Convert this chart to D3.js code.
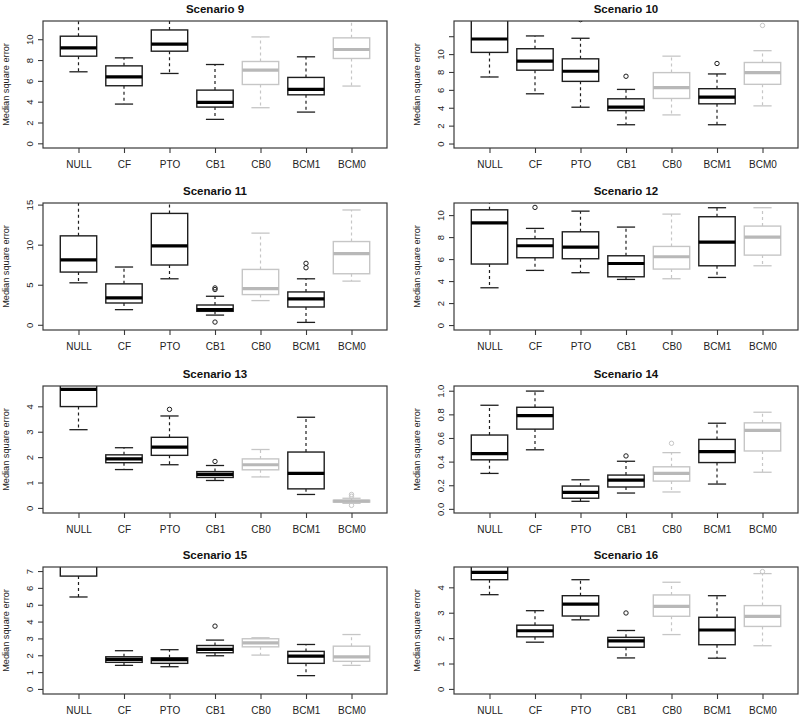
<!DOCTYPE html>
<html>
<head>
<meta charset="utf-8">
<script src="https://cdn.jsdelivr.net/npm/d3@7"></script>
<style>
  html, body { margin: 0; padding: 0; background: #fff; }
  svg { display: block; font-family: "Liberation Sans", Arial, Helvetica, sans-serif; }
</style>
</head>
<body>
<svg id="chart" width="800" height="716"></svg>
<script>
// ---------------- data ----------------
const categories = ["NULL", "CF", "PTO", "CB1", "CB0", "BCM1", "BCM0"];
const grayCategories = ["CB0", "BCM0"];
const titles = ["Scenario 9", "Scenario 10", "Scenario 11", "Scenario 12",
                "Scenario 13", "Scenario 14", "Scenario 15", "Scenario 16"];
const yLabel = "Median square error";

// each box: [lower whisker, Q1, median, Q3, upper whisker]
const s9 = [[6.87, 8.37, 9.17, 10.29, 12.5], [3.77, 5.53, 6.39, 7.44, 8.21], [6.71, 8.85, 9.52, 10.89, 12.2],
            [2.30, 3.48, 3.93, 5.11, 7.57], [3.42, 5.65, 7.03, 7.86, 10.22], [3.0, 4.66, 5.18, 6.33, 8.31],
            [5.5, 8.15, 9.01, 10.13, 11.9]];
const o9 = [[], [], [], [], [], [], []];
const s10 = [[7.44, 10.19, 11.69, 14.5, 15.5], [5.56, 8.2, 9.21, 10.6, 12.03], [4.06, 6.95, 8.08, 9.47, 11.77],
             [2.1, 3.68, 4.06, 5.0, 6.05], [3.2, 5.04, 6.24, 7.93, 9.77], [2.1, 4.44, 5.19, 6.13, 7.78],
             [4.21, 6.62, 7.93, 9.06, 10.38]];
const o10 = [[], [], [13.85], [7.52], [], [8.95], [13.2]];
const s11 = [[5.24, 6.58, 8.09, 11.1, 16.5], [1.89, 2.72, 3.35, 5.11, 7.21], [5.74, 7.46, 9.85, 13.9, 16.5],
             [1.21, 1.68, 1.89, 2.47, 3.56], [3.02, 3.77, 4.52, 6.91, 11.44], [0.3, 2.22, 3.23, 4.1, 5.74],
             [5.45, 6.37, 8.88, 10.39, 14.33]];
const o11 = [[], [], [], [4.4, 4.6, 0.34], [], [7.12, 7.67], []];
const s12 = [[3.39, 5.55, 9.3, 10.48, 11.5], [4.97, 6.12, 7.21, 7.85, 8.79], [4.76, 6.03, 7.09, 8.48, 10.36],
             [4.15, 4.39, 5.6, 6.3, 8.91], [4.21, 5.09, 6.21, 7.15, 10.09], [4.33, 5.39, 7.55, 9.85, 10.67],
             [5.39, 6.36, 8.0, 9.0, 10.67]];
const o12 = [[], [10.7], [], [], [], [], []];
const s13 = [[3.08, 3.99, 4.67, 5.0, 5.6], [1.51, 1.78, 1.93, 2.09, 2.37], [1.7, 2.07, 2.39, 2.78, 3.62],
             [1.08, 1.2, 1.32, 1.43, 1.67], [1.22, 1.5, 1.7, 1.93, 2.3], [0.53, 0.75, 1.36, 2.2, 3.57],
             [0.18, 0.23, 0.27, 0.3, 0.38]];
const o13 = [[], [], [3.88], [1.83], [], [], [0.46, 0.53, 0.1]];
const s14 = [[0.3, 0.415, 0.468, 0.625, 0.877], [0.5, 0.675, 0.79, 0.86, 0.997], [0.064, 0.09, 0.14, 0.193, 0.246],
             [0.134, 0.185, 0.244, 0.286, 0.403], [0.143, 0.235, 0.3, 0.356, 0.476], [0.21, 0.392, 0.485, 0.588, 0.725],
             [0.31, 0.49, 0.664, 0.728, 0.818]];
const o14 = [[], [], [], [0.448], [0.555], [], []];
const s15 = [[5.46, 6.7, 7.5, 8.2, 9.0], [1.40, 1.58, 1.76, 1.91, 2.27], [1.32, 1.52, 1.74, 1.85, 2.33],
             [1.97, 2.15, 2.35, 2.58, 2.9], [2.01, 2.5, 2.74, 2.98, 3.04], [0.79, 1.52, 1.95, 2.23, 2.64],
             [1.4, 1.64, 1.91, 2.54, 3.23]];
const o15 = [[], [], [], [3.73], [], [], []];
const s16 = [[3.71, 4.3, 4.59, 4.85, 5.3], [1.84, 2.05, 2.29, 2.51, 3.08], [2.72, 2.87, 3.34, 3.67, 4.3],
             [1.22, 1.64, 1.89, 2.03, 2.3], [2.14, 2.86, 3.25, 3.7, 4.2], [1.21, 1.74, 2.32, 2.82, 3.67],
             [1.7, 2.46, 2.86, 3.28, 4.54]];
const o16 = [[], [], [], [2.99], [], [], [4.62]];

// y axis ticks and labels per panel
const ticks9 = [0, 2, 4, 6, 8, 10];           const tickLabels9 = ["0", "2", "4", "6", "8", "10"];
const ticks10 = [0, 2, 4, 6, 8, 10, 12];      const tickLabels10 = ["0", "2", "4", "6", "8", "10", ""];
const ticks11 = [0, 5, 10, 15];               const tickLabels11 = ["0", "5", "10", "15"];
const ticks12 = [0, 2, 4, 6, 8, 10];          const tickLabels12 = ["0", "2", "4", "6", "8", "10"];
const ticks13 = [0, 1, 2, 3, 4];              const tickLabels13 = ["0", "1", "2", "3", "4"];
const ticks14 = [0, 0.2, 0.4, 0.6, 0.8, 1.0]; const tickLabels14 = ["0.0", "0.2", "0.4", "0.6", "0.8", "1.0"];
const ticks15 = [0, 1, 2, 3, 4, 5, 6, 7];     const tickLabels15 = ["0", "1", "2", "3", "4", "5", "6", "7"];
const ticks16 = [0, 1, 2, 3, 4];              const tickLabels16 = ["0", "1", "2", "3", "4"];

// visible y range of each panel
const yRanges = [[-0.45, 11.75], [-0.5, 13.7], [-0.65, 15.2], [-0.45, 11.1],
                 [-0.2, 4.8], [-0.035, 1.04], [-0.3, 7.24], [-0.2, 4.8]];

// ---------------- drawing ----------------
const panels = [
  [s9, o9, ticks9, tickLabels9], [s10, o10, ticks10, tickLabels10],
  [s11, o11, ticks11, tickLabels11], [s12, o12, ticks12, tickLabels12],
  [s13, o13, ticks13, tickLabels13], [s14, o14, ticks14, tickLabels14],
  [s15, o15, ticks15, tickLabels15], [s16, o16, ticks16, tickLabels16]
];

const svg = d3.select("#chart");
const colLeft = [43, 454];
const rowTop = [21, 203, 386, 567];
const pw = 344, ph = 127;
const DARK = "#1e1e1e", GRAY = "#c6c6c6", GRAY_MED = "#b8b8b8", AXIS = "#3a3a3a";

panels.forEach((p, i) => {
  const [stats, outs, ticks, tickLabels] = p;
  const left = colLeft[i % 2], top = rowTop[Math.floor(i / 2)];
  const g = svg.append("g").attr("transform", `translate(${left},${top})`);

  const x = d3.scalePoint().domain(categories).range([0, pw]).padding(0.78);
  const y = d3.scaleLinear().domain(yRanges[i]).range([ph, 0]);
  const bw = x.step() * 0.8;

  const clipId = "clip" + i;
  g.append("clipPath").attr("id", clipId).append("rect")
    .attr("x", 0).attr("y", 0).attr("width", pw).attr("height", ph);

  const plot = g.append("g").attr("clip-path", `url(#${clipId})`);

  categories.forEach((c, k) => {
    const [lo, q1, med, q3, hi] = stats[k];
    const isGray = grayCategories.includes(c);
    const col = isGray ? GRAY : DARK;
    const cx = x(c);
    const bg = plot.append("g");
    // whiskers (dashed)
    bg.append("line").attr("x1", cx).attr("x2", cx).attr("y1", y(q3)).attr("y2", y(hi))
      .attr("stroke", col).attr("stroke-width", 1.2).attr("stroke-dasharray", "3,3");
    bg.append("line").attr("x1", cx).attr("x2", cx).attr("y1", y(q1)).attr("y2", y(lo))
      .attr("stroke", col).attr("stroke-width", 1.2).attr("stroke-dasharray", "3,3");
    // staples
    [lo, hi].forEach(v => {
      bg.append("line").attr("x1", cx - bw / 4).attr("x2", cx + bw / 4).attr("y1", y(v)).attr("y2", y(v))
        .attr("stroke", col).attr("stroke-width", 1.3);
    });
    // box
    bg.append("rect").attr("x", cx - bw / 2).attr("width", bw)
      .attr("y", y(q3)).attr("height", y(q1) - y(q3))
      .attr("fill", "#fff").attr("stroke", col).attr("stroke-width", 1.4);
    // median
    bg.append("line").attr("x1", cx - bw / 2).attr("x2", cx + bw / 2).attr("y1", y(med)).attr("y2", y(med))
      .attr("stroke", isGray ? GRAY_MED : "#000").attr("stroke-width", 3.2);
    // outliers
    outs[k].forEach(v => {
      bg.append("circle").attr("cx", cx).attr("cy", y(v)).attr("r", 2.2)
        .attr("fill", "none").attr("stroke", col).attr("stroke-width", 1);
    });
  });

  // frame
  g.append("rect").attr("x", 0).attr("y", 0).attr("width", pw).attr("height", ph)
    .attr("fill", "none").attr("stroke", AXIS).attr("stroke-width", 1.2);

  // y axis
  const ya = g.append("g").call(
    d3.axisLeft(y).tickValues(ticks).tickSize(5).tickFormat((d, j) => tickLabels[j]));
  ya.select(".domain").remove();
  ya.selectAll(".tick line").attr("stroke", AXIS).attr("stroke-width", 1.1);
  ya.selectAll(".tick text")
    .attr("x", 0).attr("y", 0).attr("dy", "0.35em")
    .attr("text-anchor", "middle")
    .attr("transform", "translate(-13,0) rotate(-90)")
    .attr("font-size", 9.5).attr("fill", "#222")
    .style("font-family", "'Liberation Sans', Arial, Helvetica, sans-serif");

  // x axis
  const xa = g.append("g").attr("transform", `translate(0,${ph})`)
    .call(d3.axisBottom(x).tickSize(5).tickPadding(8));
  xa.select(".domain").remove();
  xa.selectAll(".tick line").attr("stroke", AXIS).attr("stroke-width", 1.1);
  xa.selectAll(".tick text").attr("font-size", 10).attr("fill", "#222")
    .style("font-family", "'Liberation Sans', Arial, Helvetica, sans-serif");

  // title
  g.append("text").attr("x", pw / 2).attr("y", -8).attr("text-anchor", "middle")
    .attr("font-size", 11.5).attr("font-weight", "bold").attr("fill", "#111")
    .text(titles[i]);

  // y label
  g.append("text").attr("transform", `translate(-37,${ph / 2}) rotate(-90)`)
    .attr("text-anchor", "middle").attr("dy", "0.35em")
    .attr("font-size", 9.2).attr("fill", "#222").text(yLabel);
});
</script>
</body>
</html>
